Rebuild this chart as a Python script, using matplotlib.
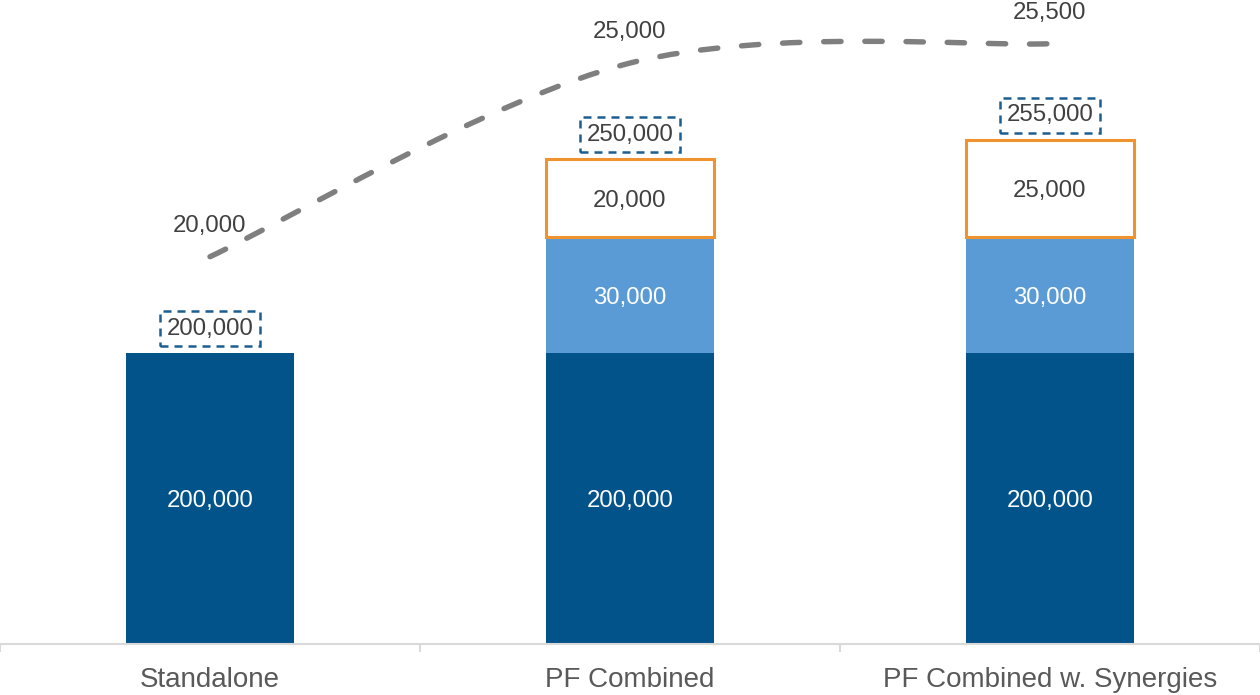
import numpy as np
import matplotlib
matplotlib.use("Agg")
import matplotlib.pyplot as plt
from matplotlib.path import Path
from matplotlib.patches import PathPatch

plt.rcParams['font.family'] = ['Liberation Sans', 'DejaVu Sans']

# data
categories = ['Standalone', 'PF Combined', 'PF Combined w. Synergies']
base_vals = [200000, 200000, 200000]
added_vals = [0, 30000, 30000]
synergy_vals = [0, 20000, 25000]
totals = [200000, 250000, 255000]
line_vals = [20000, 25000, 25500]

DARK = '#02538A'
LIGHT = '#5B9BD5'
ORANGE = '#F0922E'
GRAY = '#7F7F7F'
TXT = '#404040'

# value axis is compressed below 200k (as in the source chart)
BREAK = 200000
K = 2.667


def fwd(y):
    y = np.asarray(y, dtype=float)
    return np.where(y <= BREAK, y, BREAK + (y - BREAK) * K)


def inv(t):
    t = np.asarray(t, dtype=float)
    return np.where(t <= BREAK, t, BREAK + (t - BREAK) / K)


def mid(b, v):
    return float(inv((fwd(b) + fwd(b + v)) / 2))


def seg_label(i, y, val, color):
    ax.annotate(f'{val:,}', (i, y), xytext=(0, -2), textcoords='offset points',
                ha='center', va='center', color=color, fontsize=17.3, zorder=5)


fig = plt.figure(figsize=(12.6, 6.95), dpi=100)
ax = fig.add_axes([0, 0.0734, 1, 0.9266])
ax.set_yscale('function', functions=(fwd, inv))
ax.set_xlim(-0.5, 2.5)
ax.set_ylim(0, 291000)

x = np.arange(len(categories))
w = 0.4
ax.bar(x, base_vals, width=w, color=DARK, zorder=2)
for i in x:
    seg_label(i, mid(0, base_vals[i]), base_vals[i], 'white')
    if added_vals[i] > 0:
        ax.bar(i, added_vals[i], bottom=base_vals[i], width=w, color=LIGHT, zorder=2)
        seg_label(i, mid(base_vals[i], added_vals[i]), added_vals[i], 'white')
    if synergy_vals[i] > 0:
        b = base_vals[i] + added_vals[i]
        ax.bar(i, synergy_vals[i], bottom=b, width=w, color='white',
               edgecolor=ORANGE, linewidth=2.2, zorder=3)
        seg_label(i, mid(b, synergy_vals[i]), synergy_vals[i], TXT)
    ax.annotate(f'{totals[i]:,}', (i, totals[i]), xytext=(0, 17.5),
                textcoords='offset points', ha='center', va='center',
                color=TXT, fontsize=17.3, zorder=6,
                bbox=dict(boxstyle='square,pad=0.27', fc='white', ec='#1B5E8F',
                          lw=1.8, ls=(0, (3.2, 2.4))))

for s in ['left', 'right', 'top']:
    ax.spines[s].set_visible(False)
ax.spines['bottom'].set_color('#D9D9D9')
ax.spines['bottom'].set_linewidth(1.5)
ax.set_yticks([])
ax.set_xticks(x)
ax.set_xticklabels(categories, fontsize=20, color='#595959')
ax.tick_params(axis='x', which='major', length=0, pad=16.5)
ax.set_xticks([-0.5, 0.5, 1.5, 2.5], minor=True)
ax.tick_params(axis='x', which='minor', length=6, width=1.5, color='#D9D9D9')

# secondary axis for the dashed line
ax2 = ax.twinx()
ax2.set_ylim(10000, 26628)
ax2.set_axis_off()

# smooth curve (Excel-style bezier) through the points
px = list(x.astype(float))
py = list(line_vals)
verts = [(px[0], py[0])]
codes = [Path.MOVETO]
n = len(px)
for i in range(n - 1):
    p0 = (px[max(i - 1, 0)], py[max(i - 1, 0)])
    p1 = (px[i], py[i])
    p2 = (px[i + 1], py[i + 1])
    p3 = (px[min(i + 2, n - 1)], py[min(i + 2, n - 1)])
    c1 = (p1[0] + (p2[0] - p0[0]) / 6, p1[1] + (p2[1] - p0[1]) / 6)
    c2 = (p2[0] - (p3[0] - p1[0]) / 6, p2[1] - (p3[1] - p1[1]) / 6)
    verts += [c1, c2, p2]
    codes += [Path.CURVE4] * 3
ax2.add_patch(PathPatch(Path(verts, codes), fill=False, ec=GRAY, lw=3.9,
                        ls=(0, (3.2, 4.4)), capstyle='round', zorder=4))
for i in x:
    ax2.annotate(f'{line_vals[i]:,}', (i, line_vals[i]), xytext=(0, 22.3),
                 textcoords='offset points', ha='center', va='center',
                 color=TXT, fontsize=17.3)

fig.savefig('out.png', dpi=100)
